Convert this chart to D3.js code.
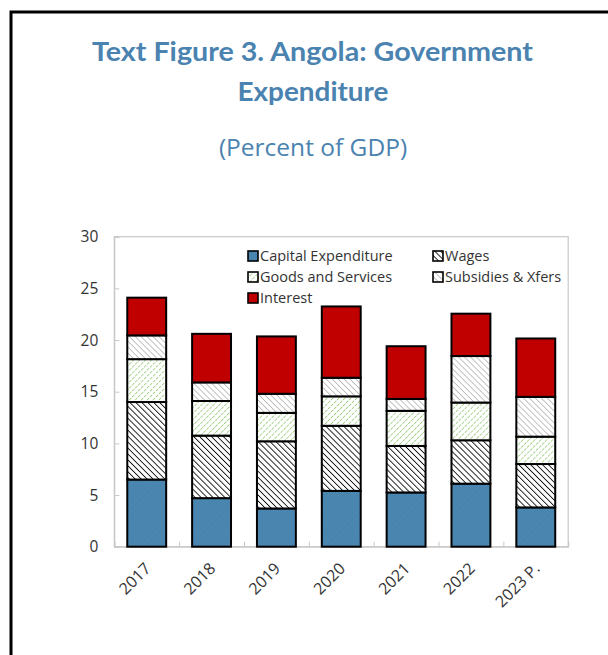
<!DOCTYPE html>
<html>
<head>
<meta charset="utf-8">
<script src="https://cdn.jsdelivr.net/npm/d3@7"></script>
<style>
  html, body { margin: 0; padding: 0; background: #fff; }
  svg { display: block; }
</style>
</head>
<body>
<svg id="chart" width="608" height="655"></svg>
<script>
const years = ["2017", "2018", "2019", "2020", "2021", "2022", "2023 P."];
const seriesNames = ["Capital Expenditure", "Wages", "Goods and Services", "Subsidies & Xfers", "Interest"];
const capital   = [6.5, 4.7, 3.7, 5.4, 5.25, 6.1, 3.8];
const wages     = [7.5, 6.05, 6.5, 6.3, 4.5, 4.2, 4.2];
const goods     = [4.15, 3.35, 2.75, 2.85, 3.4, 3.65, 2.65];
const subsidies = [2.3, 1.8, 1.85, 1.8, 1.15, 4.5, 3.85];
const interest  = [3.65, 4.7, 5.55, 6.9, 5.1, 4.1, 5.65];
const yTicks = [0, 5, 10, 15, 20, 25, 30];

(function () {
const keys = ["cap", "wag", "goo", "sub", "int"];
const rows = years.map((y, i) => ({year: y, cap: capital[i], wag: wages[i], goo: goods[i], sub: subsidies[i], int: interest[i]}));
const stacked = d3.stack().keys(keys)(rows);

const svg = d3.select("#chart");
const defs = svg.append("defs");

function hatch(id, bg, color, width, dir, spacing, dash) {
  const p = defs.append("pattern").attr("id", id).attr("patternUnits", "userSpaceOnUse")
    .attr("width", spacing).attr("height", spacing)
    .attr("patternTransform", "rotate(" + (dir === "back" ? -45 : 45) + ")");
  p.append("rect").attr("width", spacing).attr("height", spacing).attr("fill", bg);
  const l = p.append("line").attr("x1", 0).attr("y1", 0).attr("x2", 0).attr("y2", spacing)
    .attr("stroke", color).attr("stroke-width", width);
  if (dash) l.attr("stroke-dasharray", dash);
}
hatch("pCap", "#4a86b0", "#4580a8", 1, "fwd", 4);
hatch("pWag", "#ffffff", "#111111", 1.8, "back", 4.2);
hatch("pGoo", "#ffffff", "#7fbf5c", 1.3, "fwd", 4.2, "2.5,1");
hatch("pSub", "#ffffff", "#9a9a9a", 1.2, "back", 4.2);
const fills = {cap: "url(#pCap)", wag: "url(#pWag)", goo: "url(#pGoo)", sub: "url(#pSub)", int: "#c00000"};

// Outer frame
svg.append("rect").attr("x", 11).attr("y", 12).attr("width", 620).attr("height", 680)
  .attr("fill", "none").attr("stroke", "#000").attr("stroke-width", 3);

// Titles
const titleColor = "#4a82b0";
svg.append("text").attr("x", 312.5).attr("y", 61).attr("text-anchor", "middle")
  .attr("font-family", "Lato, 'Open Sans', sans-serif").attr("font-weight", "bold")
  .attr("font-size", 26.5).attr("fill", titleColor)
  .attr("textLength", 441).attr("lengthAdjust", "spacingAndGlyphs")
  .text("Text Figure 3. Angola: Government");
svg.append("text").attr("x", 313).attr("y", 101).attr("text-anchor", "middle")
  .attr("font-family", "Lato, 'Open Sans', sans-serif").attr("font-weight", "bold")
  .attr("font-size", 26.5).attr("fill", titleColor)
  .attr("textLength", 151).attr("lengthAdjust", "spacingAndGlyphs")
  .text("Expenditure");
svg.append("text").attr("x", 313).attr("y", 156).attr("text-anchor", "middle")
  .attr("font-family", "'Open Sans', sans-serif")
  .attr("font-size", 24.5).attr("fill", titleColor).text("(Percent of GDP)");

// Plot
const pLeft = 114.3, pRight = 568.2, pTop = 236.7, pBottom = 546.7;
const x = d3.scaleBand().domain(years).range([pLeft, pRight]).paddingInner(0.4).paddingOuter(0.2);
const y = d3.scaleLinear().domain([0, 30]).range([pBottom, pTop]);
const axisColor = "#c8c8c8";
const font = "'Open Sans', 'Noto Sans', sans-serif";

svg.append("rect").attr("x", pLeft).attr("y", pTop).attr("width", pRight - pLeft).attr("height", pBottom - pTop)
  .attr("fill", "none").attr("stroke", axisColor).attr("stroke-width", 1.2);

const yAxis = svg.append("g").attr("transform", `translate(${pLeft},0)`)
  .call(d3.axisLeft(y).tickValues(yTicks).tickSize(-5).tickPadding(16));
yAxis.select(".domain").attr("stroke", axisColor);
yAxis.selectAll(".tick line").attr("stroke", axisColor);
yAxis.selectAll(".tick text").attr("font-family", font).attr("font-size", 15.5).attr("fill", "#333");

const xb = d3.scalePoint().domain(d3.range(years.length + 1)).range([pLeft, pRight]);
const xAxisG = svg.append("g").attr("transform", `translate(0,${pBottom})`)
  .call(d3.axisBottom(xb).tickSize(-5).tickFormat(""));
xAxisG.select(".domain").attr("stroke", axisColor);
xAxisG.selectAll(".tick line").attr("stroke", axisColor);

svg.append("g").selectAll("text").data(years).join("text")
  .attr("transform", d => `translate(${x(d) + x.bandwidth() / 2 - 3},${pBottom + 15}) rotate(-45)`)
  .attr("text-anchor", "end").attr("dy", "0.7em")
  .attr("font-family", font).attr("font-size", 16).attr("fill", "#333").text(d => d);

svg.append("g").selectAll("g").data(stacked).join("g")
  .attr("fill", d => fills[d.key])
  .selectAll("rect").data(d => d).join("rect")
  .attr("x", d => x(d.data.year)).attr("width", x.bandwidth())
  .attr("y", d => y(d[1])).attr("height", d => y(d[0]) - y(d[1]))
  .attr("stroke", "#000").attr("stroke-width", 2);

const legendPos = [
  {k: "cap", x: 248, y: 256}, {k: "wag", x: 433, y: 256},
  {k: "goo", x: 248, y: 277}, {k: "sub", x: 433, y: 277},
  {k: "int", x: 248, y: 298}
];
const lg = svg.append("g").selectAll("g").data(legendPos).join("g")
  .attr("transform", d => `translate(${d.x},${d.y})`);
lg.append("rect").attr("x", 0).attr("y", -5).attr("width", 10).attr("height", 10)
  .attr("fill", d => fills[d.k]).attr("stroke", "#000").attr("stroke-width", 1.6);
lg.append("text").attr("x", 12).attr("y", 0).attr("dy", "0.35em")
  .attr("font-family", font).attr("font-size", 14.5).attr("fill", "#333")
  .text(d => seriesNames[keys.indexOf(d.k)]);
})();
</script>
</body>
</html>
